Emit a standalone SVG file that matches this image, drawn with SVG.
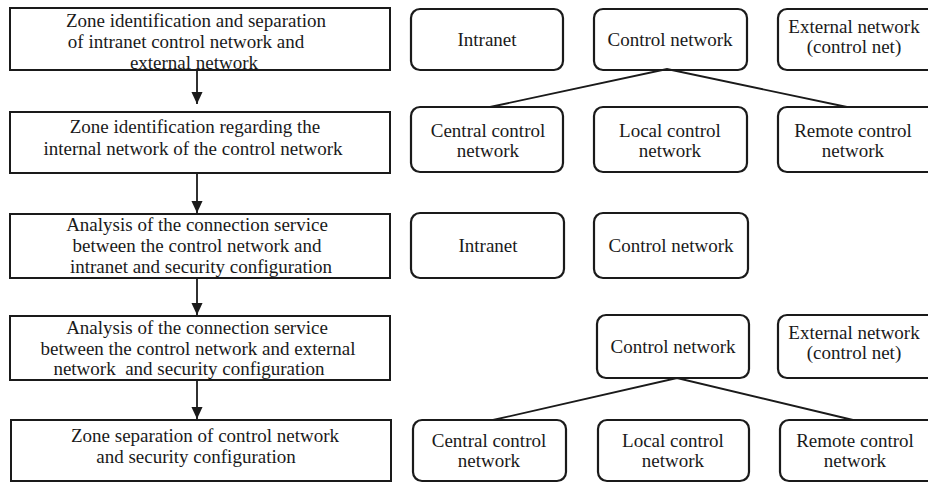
<svg xmlns="http://www.w3.org/2000/svg" width="928" height="483" viewBox="0 0 928 483">
  <style>
    .step { fill: #fff; stroke: #1a1a1a; stroke-width: 2; }
    .zone { fill: #fff; stroke: #1a1a1a; stroke-width: 2.2; }
    .link { stroke: #1a1a1a; stroke-width: 1.8; fill: none; }
    text { font-family: 'Liberation Serif', 'DejaVu Serif', 'Times New Roman', serif; font-size: 19px; fill: #1a1a1a; text-anchor: middle; }
  </style>
  <defs>
    <marker id="head" markerWidth="12" markerHeight="13" refX="13" refY="6" orient="auto" markerUnits="userSpaceOnUse" viewBox="0 0 13 12">
      <path d="M0,0 L13,6 L0,12 Z" fill="#1a1a1a"/>
    </marker>
  </defs>

  <!-- process steps on the left -->
  <g id="step1">
    <rect class="step" x="10" y="8" width="380" height="62"/>
    <text x="196" y="27">Zone identification and separation</text>
    <text x="186" y="48">of intranet control network and</text>
    <text x="194" y="69">external network</text>
  </g>
  <g id="step2">
    <rect class="step" x="10" y="112" width="380" height="61"/>
    <text x="195" y="133">Zone identification regarding the</text>
    <text x="193" y="155">internal network of the control network</text>
  </g>
  <g id="step3">
    <rect class="step" x="10" y="214" width="380" height="64"/>
    <text x="197" y="231">Analysis of the connection service</text>
    <text x="197" y="252">between the control network and</text>
    <text x="201" y="273">intranet and security configuration</text>
  </g>
  <g id="step4">
    <rect class="step" x="10" y="316" width="380" height="64"/>
    <text x="197" y="334">Analysis of the connection service</text>
    <text x="198" y="355">between the control network and external</text>
    <text x="189" y="375" xml:space="preserve">network  and security configuration</text>
  </g>
  <g id="step5">
    <rect class="step" x="11" y="420" width="380" height="61"/>
    <text x="205" y="442">Zone separation of control network</text>
    <text x="196" y="463">and security configuration</text>
  </g>

  <!-- zone boxes, row 1 -->
  <g id="r1-intranet">
    <rect class="zone" x="411" y="9" width="152" height="61" rx="9"/>
    <text x="487" y="46">Intranet</text>
  </g>
  <g id="r1-control">
    <rect class="zone" x="594" y="9" width="153" height="61" rx="9"/>
    <text x="670" y="46">Control network</text>
  </g>
  <g id="r1-external">
    <rect class="zone" x="778" y="9" width="162" height="61" rx="9"/>
    <text x="854" y="33">External network</text>
    <text x="854" y="53">(control net)</text>
  </g>

  <!-- zone boxes, row 2 -->
  <g id="r2-central">
    <rect class="zone" x="411" y="107" width="152" height="65" rx="9"/>
    <text x="488" y="137">Central control</text>
    <text x="488" y="157">network</text>
  </g>
  <g id="r2-local">
    <rect class="zone" x="594" y="107" width="153" height="65" rx="9"/>
    <text x="670" y="137">Local control</text>
    <text x="670" y="157">network</text>
  </g>
  <g id="r2-remote">
    <rect class="zone" x="778" y="107" width="162" height="65" rx="9"/>
    <text x="853" y="137">Remote control</text>
    <text x="853" y="157">network</text>
  </g>

  <!-- zone boxes, row 3 -->
  <g id="r3-intranet">
    <rect class="zone" x="411" y="213" width="153" height="65" rx="9"/>
    <text x="488" y="252">Intranet</text>
  </g>
  <g id="r3-control">
    <rect class="zone" x="594" y="213" width="154" height="65" rx="9"/>
    <text x="671" y="252">Control network</text>
  </g>

  <!-- zone boxes, row 4 -->
  <g id="r4-control">
    <rect class="zone" x="597" y="315" width="152" height="63" rx="9"/>
    <text x="673" y="353">Control network</text>
  </g>
  <g id="r4-external">
    <rect class="zone" x="778" y="315" width="162" height="63" rx="9"/>
    <text x="854" y="339">External network</text>
    <text x="854" y="359">(control net)</text>
  </g>

  <!-- zone boxes, row 5 -->
  <g id="r5-central">
    <rect class="zone" x="413" y="420" width="153" height="61" rx="9"/>
    <text x="489" y="447">Central control</text>
    <text x="489" y="467">network</text>
  </g>
  <g id="r5-local">
    <rect class="zone" x="598" y="420" width="151" height="61" rx="9"/>
    <text x="673" y="447">Local control</text>
    <text x="673" y="467">network</text>
  </g>
  <g id="r5-remote">
    <rect class="zone" x="780" y="420" width="162" height="61" rx="9"/>
    <text x="855" y="447">Remote control</text>
    <text x="855" y="467">network</text>
  </g>

  <!-- connectors -->
  <g id="connectors">
    <line class="link" x1="197" y1="70" x2="197" y2="104" marker-end="url(#head)"/>
    <line class="link" x1="197" y1="173" x2="197" y2="213" marker-end="url(#head)"/>
    <line class="link" x1="197" y1="278" x2="197" y2="315" marker-end="url(#head)"/>
    <line class="link" x1="197" y1="380" x2="197" y2="419" marker-end="url(#head)"/>
    <polyline class="link" points="490,107 667,69 847,107"/>
    <polyline class="link" points="493,420 677,378 853,420"/>
  </g>
</svg>
